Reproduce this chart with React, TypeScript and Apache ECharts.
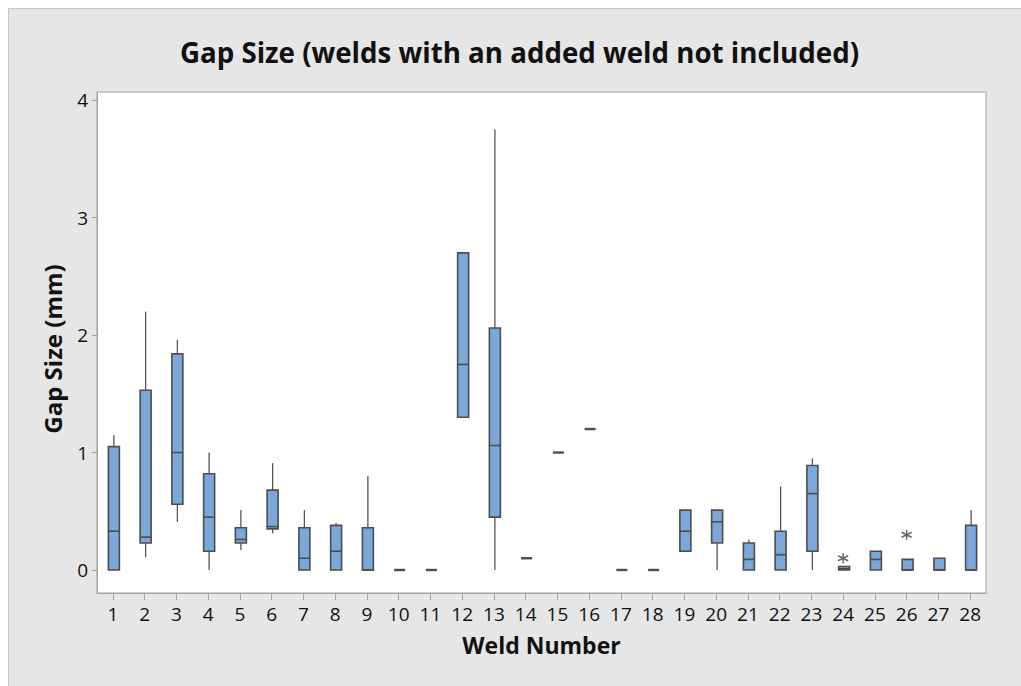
import React, { useEffect, useRef } from "react";
import * as echarts from "echarts";

const categories = ["1","2","3","4","5","6","7","8","9","10","11","12","13","14","15","16","17","18","19","20","21","22","23","24","25","26","27","28"];
const minVals = [0, 0.11, 0.41, 0, 0.17, 0.31, 0, 0, 0, 0, 0, 1.30, 0, 0.10, 1.00, 1.20, 0, 0, 0.16, 0, 0, 0, 0, 0, 0, 0, 0, 0];
const q1Vals = [0, 0.23, 0.56, 0.16, 0.23, 0.35, 0, 0, 0, 0, 0, 1.30, 0.45, 0.10, 1.00, 1.20, 0, 0, 0.16, 0.23, 0, 0, 0.16, 0, 0, 0, 0, 0];
const medVals = [0.33, 0.28, 1.00, 0.45, 0.26, 0.37, 0.10, 0.16, 0, 0, 0, 1.75, 1.06, 0.10, 1.00, 1.20, 0, 0, 0.33, 0.41, 0.09, 0.13, 0.65, 0.01, 0.09, 0, 0, 0];
const q3Vals = [1.05, 1.53, 1.84, 0.82, 0.36, 0.68, 0.36, 0.38, 0.36, 0, 0, 2.70, 2.06, 0.10, 1.00, 1.20, 0, 0, 0.51, 0.51, 0.23, 0.33, 0.89, 0.03, 0.16, 0.09, 0.10, 0.38];
const maxVals = [1.15, 2.20, 1.96, 1.00, 0.51, 0.91, 0.51, 0.40, 0.80, 0, 0, 2.70, 3.75, 0.10, 1.00, 1.20, 0, 0, 0.51, 0.51, 0.26, 0.71, 0.95, 0.03, 0.16, 0.09, 0.10, 0.51];
const outlierWelds = ["24", "26"];
const outlierVals = [0.10, 0.30];
const yTicks = [0, 1, 2, 3, 4];

const FONT = "'Open Sans', 'Noto Sans', sans-serif";
const BOX_FILL = "#7ba7d9";
const BOX_EDGE = "#4d4d4d";
const AXIS_GRAY = "#a3a3a3";

export default function App() {
  const ref = useRef<HTMLDivElement>(null);
  useEffect(() => {
    if (!ref.current) return;
    const chart = echarts.init(ref.current, null, { renderer: "svg" });
    const boxData = categories.map((_, i) => [i, minVals[i], q1Vals[i], medVals[i], q3Vals[i], maxVals[i]]);
    const outlierData = outlierWelds.map((w, i) => [w, outlierVals[i]]);
    chart.setOption({
      animation: false,
      backgroundColor: "#ffffff",
      graphic: [
        {
          type: "rect",
          z: -100,
          silent: true,
          shape: { x: 8.5, y: 8.5, width: 1100, height: 800 },
          style: { fill: "#e6e6e6", stroke: "#c6c6c6", lineWidth: 1 },
        },
        {
          type: "text",
          z: 10,
          x: 52,
          y: 349,
          rotation: Math.PI / 2,
          style: {
            text: "Gap Size (mm)",
            fontFamily: FONT,
            fontSize: 24,
            fontWeight: "bold",
            fill: "#111",
            textAlign: "center",
            textVerticalAlign: "middle",
          },
        },
      ],
      title: {
        text: "Gap Size (welds with an added weld not included)",
        left: 519.5,
        textAlign: "center",
        top: 38,
        padding: 0,
        textStyle: { fontFamily: FONT, fontSize: 27.7, fontWeight: "bold", color: "#111" },
      },
      grid: {
        left: 97,
        right: 35,
        top: 92,
        bottom: 93,
        show: true,
        backgroundColor: "#ffffff",
        borderColor: AXIS_GRAY,
        borderWidth: 1,
      },
      xAxis: {
        type: "category",
        data: categories,
        boundaryGap: true,
        name: "Weld Number",
        nameLocation: "middle",
        nameGap: 40,
        nameTextStyle: { fontFamily: FONT, fontSize: 23, fontWeight: "bold", color: "#111" },
        axisLine: { show: true, onZero: false, lineStyle: { color: AXIS_GRAY, width: 1 } },
        axisTick: { show: true, alignWithLabel: true, inside: false, length: 7, lineStyle: { color: AXIS_GRAY, width: 1 } },
        axisLabel: { fontFamily: FONT, fontSize: 19, fontWeight: 500, color: "#111", margin: 11, interval: 0 },
        splitLine: { show: false },
      },
      yAxis: {
        type: "value",
        min: -0.196,
        max: 4.07,
        axisLine: { show: true, onZero: false, lineStyle: { color: AXIS_GRAY, width: 1 } },
        axisTick: { show: true, length: 5, customValues: yTicks, lineStyle: { color: AXIS_GRAY } },
        axisLabel: { fontFamily: FONT, fontSize: 19, fontWeight: 500, color: "#111", margin: 9, customValues: yTicks },
        splitLine: { show: false },
      },
      series: [
        {
          type: "custom",
          data: boxData,
          encode: { x: 0, y: [1, 2, 3, 4, 5] },
          renderItem: (params: any, api: any) => {
            const x = api.value(0);
            const pMin = api.coord([x, api.value(1)]);
            const pQ1 = api.coord([x, api.value(2)]);
            const pMed = api.coord([x, api.value(3)]);
            const pQ3 = api.coord([x, api.value(4)]);
            const pMax = api.coord([x, api.value(5)]);
            const cx = pMed[0] + 1;
            const half = 5.5;
            const children: any[] = [];
            if (pMin[1] - pQ1[1] > 0.5) {
              children.push({
                type: "line",
                shape: { x1: cx, y1: pQ1[1], x2: cx, y2: pMin[1] },
                style: { stroke: "#555555", lineWidth: 1.3 },
              });
            }
            if (pQ3[1] - pMax[1] > 0.5) {
              children.push({
                type: "line",
                shape: { x1: cx, y1: pMax[1], x2: cx, y2: pQ3[1] },
                style: { stroke: "#555555", lineWidth: 1.3 },
              });
            }
            const h = pQ1[1] - pQ3[1];
            if (h > 0.5) {
              children.push({
                type: "rect",
                shape: { x: cx - half, y: pQ3[1], width: half * 2, height: h },
                style: { fill: BOX_FILL, stroke: BOX_EDGE, lineWidth: 1.6 },
              });
            }
            children.push({
              type: "line",
              shape: { x1: cx - half, y1: pMed[1], x2: cx + half, y2: pMed[1] },
              style: { stroke: BOX_EDGE, lineWidth: h > 0.5 ? 1.6 : 2.4 },
            });
            return { type: "group", children };
          },
          z: 5,
        },
        {
          type: "scatter",
          data: outlierData,
          symbol: "path://M5,0L5,10M0.67,2.5L9.33,7.5M0.67,7.5L9.33,2.5",
          symbolSize: [10, 10],
          itemStyle: { color: "none", borderColor: "#404040", borderWidth: 1.5 },
          z: 6,
        },
      ],
    });
    return () => chart.dispose();
  }, []);
  return (
    <div style={{ position: "fixed", left: 0, top: 0, width: 1021, height: 686 }}>
      <div ref={ref} style={{ width: 1021, height: 686 }} />
    </div>
  );
}
